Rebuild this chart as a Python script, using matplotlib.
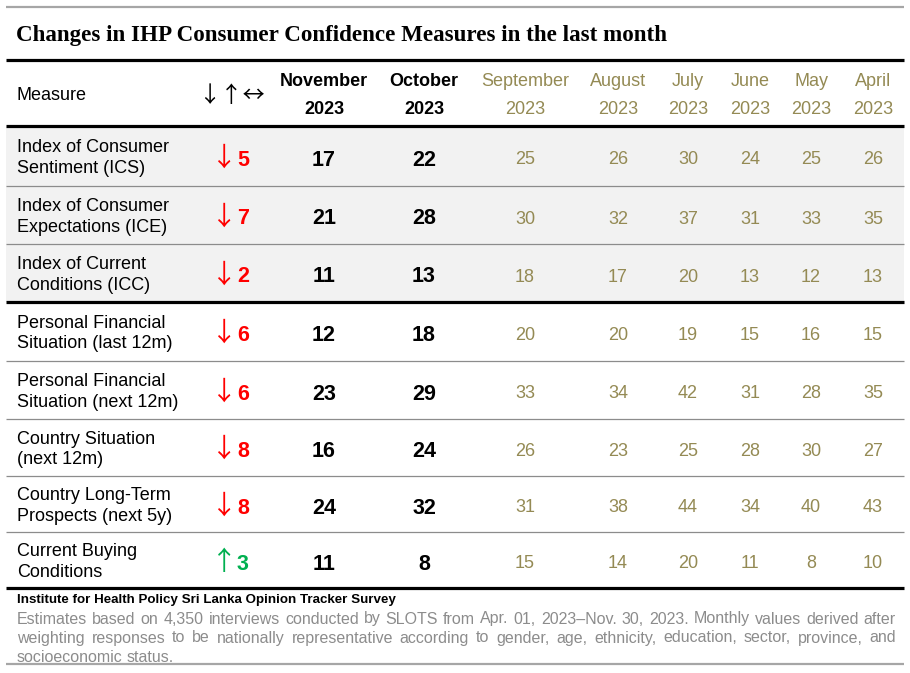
import matplotlib
matplotlib.use("Agg")
import matplotlib.pyplot as plt
from matplotlib.patches import Rectangle

# table data
measures = [
    "Index of Consumer\nSentiment (ICS)",
    "Index of Consumer\nExpectations (ICE)",
    "Index of Current\nConditions (ICC)",
    "Personal Financial\nSituation (last 12m)",
    "Personal Financial\nSituation (next 12m)",
    "Country Situation\n(next 12m)",
    "Country Long-Term\nProspects (next 5y)",
    "Current Buying\nConditions",
]
months = ["November", "October", "September", "August", "July", "June", "May", "April"]
year = "2023"
nov = [17, 21, 11, 12, 23, 16, 24, 11]
octo = [22, 28, 13, 18, 29, 24, 32, 8]
sep = [25, 30, 18, 20, 33, 26, 31, 15]
aug = [26, 32, 17, 20, 34, 23, 38, 14]
jul = [30, 37, 20, 19, 42, 25, 44, 20]
jun = [24, 31, 13, 15, 31, 28, 34, 11]
may = [25, 33, 12, 16, 28, 30, 40, 8]
apr = [26, 35, 13, 15, 35, 27, 43, 10]

title = "Changes in IHP Consumer Confidence Measures in the last month"
source = "Institute for Health Policy Sri Lanka Opinion Tracker Survey"
note_lines = [
    "Estimates based on 4,350 interviews conducted by SLOTS from Apr. 01, 2023\u2013Nov. 30, 2023. Monthly values derived after",
    "weighting responses to be nationally representative according to gender, age, ethnicity, education, sector, province, and",
    "socioeconomic status.",
]

OLIVE = "#948A54"
SANS = ["Liberation Sans", "DejaVu Sans"]
ARROWS = ["Noto Sans CJK JP", "DejaVu Sans"]

fig = plt.figure(figsize=(9.1, 6.73), dpi=100)
ax = fig.add_axes([0, 0, 1, 1])
ax.set_xlim(0, 910)
ax.set_ylim(673, 0)
ax.axis("off")

x0, x1 = 6, 904
row_edges = [126, 186, 244, 302, 361, 419, 476, 532, 588]
col_x = [324, 424, 525, 618, 688, 750, 811, 873]

# shaded index rows
ax.add_patch(Rectangle((x0, row_edges[0]), x1 - x0, row_edges[3] - row_edges[0],
                       facecolor="#F2F2F2", edgecolor="none", zorder=0))

# rules
ax.hlines(7, x0, x1, color="#A6A6A6", lw=1.6)
ax.hlines([60, 126, 302, 588], x0, x1, color="black", lw=2.3)
thin = [row_edges[i] for i in (1, 2, 4, 5, 6, 7)]
ax.hlines(thin, x0, x1, color="#8C8C8C", lw=0.9)
ax.hlines(664, x0, x1, color="#A6A6A6", lw=1.6)

ax.text(16, 35, title, family=["Liberation Serif", "DejaVu Serif"], fontweight="bold",
        fontsize=16.6, va="center", ha="left")

# header
ax.text(17, 96, "Measure", family=SANS, fontsize=13, va="center")
ax.text(231, 95, "\u2193\u2191\u2194", family=ARROWS, fontsize=16, va="center", ha="center")
for i, (m, cx) in enumerate(zip(months, col_x)):
    bold = i < 2
    kw = dict(family=SANS, fontsize=13, ha="center", va="center",
              fontweight="bold" if bold else "normal", color="black" if bold else OLIVE)
    ax.text(cx, 82, m, **kw)
    ax.text(cx, 110, year, **kw)

# body
older = [sep, aug, jul, jun, may, apr]
for r, label in enumerate(measures):
    yc = (row_edges[r] + row_edges[r + 1]) / 2
    ax.text(17, yc + 2, label, family=SANS, fontsize=13, va="center", ha="left", linespacing=1.3)
    diff = nov[r] - octo[r]
    col = "#FF0000" if diff < 0 else "#00B050"
    arrow = "\u2193" if diff < 0 else "\u2191"
    ax.text(224, yc + 2, arrow, family=ARROWS, fontsize=19, color=col, va="center", ha="center")
    ax.text(237, yc + 4, str(abs(diff)), family=SANS, fontsize=15.5, fontweight="bold",
            color=col, va="center", ha="left")
    ax.text(col_x[0], yc + 4, str(nov[r]), family=SANS, fontsize=15.5, fontweight="bold",
            va="center", ha="center")
    ax.text(col_x[1], yc + 4, str(octo[r]), family=SANS, fontsize=15.5, fontweight="bold",
            va="center", ha="center")
    for series, cx in zip(older, col_x[2:]):
        ax.text(cx, yc + 4, str(series[r]), family=SANS, fontsize=13, color=OLIVE,
                va="center", ha="center")

# footer
ax.text(17, 600, source, family=SANS, fontsize=9.6, fontweight="bold", va="center")
renderer = fig.canvas.get_renderer()
fx0, fx1 = 17, 896
for k, line in enumerate(note_lines):
    y = 619 + 19 * k
    words = line.split(" ")
    ts = [ax.text(0, y, w, family=SANS, fontsize=11.5, color="#8C8C8C", va="center")
          for w in words]
    widths = [t.get_window_extent(renderer).width for t in ts]
    if k < len(note_lines) - 1:
        gap = (fx1 - fx0 - sum(widths)) / (len(words) - 1)
    else:
        gap = 3.5
    x = fx0
    for t, w in zip(ts, widths):
        t.set_x(x)
        x += w + gap

fig.savefig("out.png", dpi=100)
